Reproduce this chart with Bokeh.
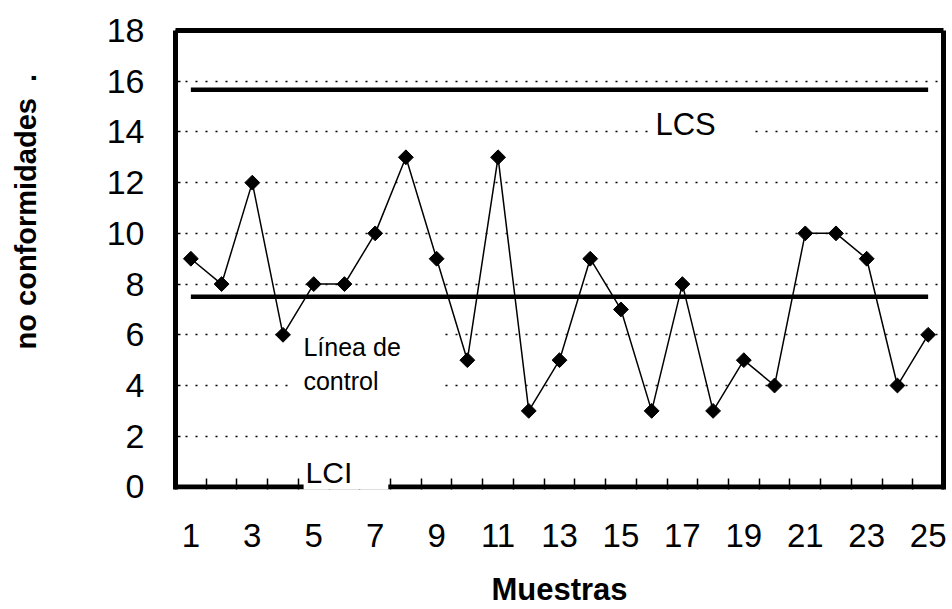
import math
from bokeh.plotting import figure
from bokeh.models import FixedTicker, Label, LinearAxis, Range1d, Span
from bokeh.embed import file_html
from bokeh.resources import INLINE

# ---- data ----
muestras = list(range(1, 26))
no_conformidades = [9, 8, 12, 6, 8, 8, 10, 13, 9, 5, 13, 3, 5, 9, 7, 3, 8, 3, 5, 4, 10, 10, 9, 4, 6]
lcs_value = 15.66
lc_value = 7.5
lci_value = 0
x_tick_labels = list(range(1, 26, 2))
y_tick_values = list(range(0, 19, 2))
grid_values = list(range(2, 17, 2))

FONT = "Liberation Sans"
NB = "\u00a0"

p = figure(width=952, height=609, output_backend="svg", toolbar_location=None,
           x_range=Range1d(0.5, 25.5), y_range=Range1d(-0.1, 18),
           min_border_left=175, min_border_right=9, min_border_top=30, min_border_bottom=120,
           background_fill_color="white", border_fill_color="white")
p.outline_line_color = None

# grid
p.xgrid.visible = False
p.ygrid.ticker = FixedTicker(ticks=grid_values)
p.ygrid.grid_line_color = "black"
p.ygrid.grid_line_width = 1.5
p.ygrid.grid_line_dash = "2 8"

# bottom axis
xa = p.xaxis[0]
xa.ticker = FixedTicker(ticks=x_tick_labels, minor_ticks=[m + 0.5 for m in range(0, 26)])
xa.axis_line_color = None
xa.major_tick_in = 0
xa.major_tick_out = 0
xa.minor_tick_in = 11
xa.minor_tick_out = 0
xa.minor_tick_line_width = 1.5
xa.minor_tick_line_color = "black"
xa.major_label_text_font = FONT
xa.major_label_text_font_size = "33px"
xa.major_label_text_color = "black"
xa.major_label_standoff = 34
xa.axis_label = "Muestras"
xa.axis_label_text_font = FONT
xa.axis_label_text_font_size = "31px"
xa.axis_label_text_font_style = "bold"
xa.axis_label_text_color = "black"
xa.axis_label_standoff = 22

# left axis
ya = p.yaxis[0]
ya.ticker = FixedTicker(ticks=y_tick_values)
ya.axis_line_width = 5
ya.axis_line_color = "black"
ya.major_tick_in = 5
ya.major_tick_out = 0
ya.major_tick_line_width = 1.5
ya.minor_tick_in = 0
ya.minor_tick_out = 0
ya.major_label_text_font = FONT
ya.major_label_text_font_size = "34px"
ya.major_label_text_color = "black"
ya.major_label_standoff = 31
ya.axis_label = NB * 12 + "no conformidades" + NB * 2 + "."
ya.axis_label_text_font = FONT
ya.axis_label_text_font_size = "29px"
ya.axis_label_text_font_style = "bold"
ya.axis_label_text_color = "black"
ya.axis_label_standoff = 62

# frame on top / right
for side in ("above", "right"):
    ax = LinearAxis(ticker=FixedTicker(ticks=[]), axis_line_width=5, axis_line_color="black",
                    major_tick_in=0, major_tick_out=0, minor_tick_in=0, minor_tick_out=0,
                    major_label_standoff=0, major_label_text_font_size="0px")
    p.add_layout(ax, side)

# control lines
p.line(muestras, [lcs_value] * len(muestras), line_width=4.5, line_color="black")
p.line(muestras, [lc_value] * len(muestras), line_width=4.5, line_color="black")
p.add_layout(Span(location=lci_value, dimension="width", line_width=5, line_color="black"))

# data series
p.line(muestras, no_conformidades, line_width=1.5, line_color="black")
p.scatter(muestras, no_conformidades, marker="square", size=10.5, angle=math.pi / 4,
          fill_color="black", line_color="black")

# annotations
p.add_layout(Label(x=15.96, y=14.29, text="LCS", text_font=FONT, text_font_size="31px",
                   text_baseline="middle", text_color="black",
                   background_fill_color="white",
                   padding=dict(left=5, right=33, top=2, bottom=2)))
p.add_layout(Label(x=4.34, y=6.27, text="Línea de\ncontrol", text_font=FONT, text_font_size="25px",
                   text_baseline="top", text_color="black",
                   background_fill_color="white",
                   padding=dict(left=10, right=38, top=5, bottom=3)))
p.add_layout(Label(x=4.67, y=-0.2, text="LCI", text_font=FONT, text_font_size="30px",
                   text_baseline="bottom", text_color="black",
                   background_fill_color="white",
                   padding=dict(left=2, right=36, top=2, bottom=3)))

open("out.html", "w").write(file_html(p, INLINE))
